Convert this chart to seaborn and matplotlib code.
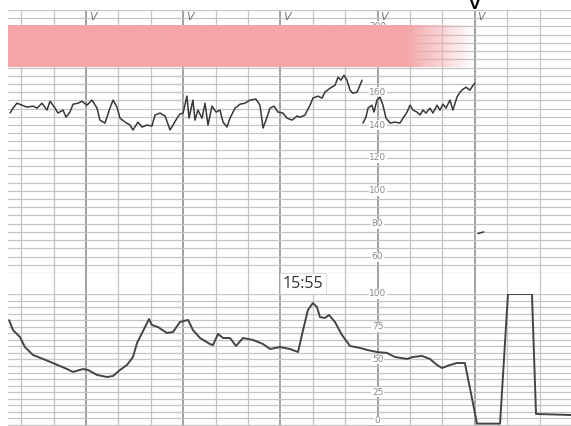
import numpy as np
import pandas as pd
import matplotlib
matplotlib.use("Agg")
import matplotlib.pyplot as plt
import matplotlib.transforms as mtransforms
import seaborn as sns

# CTG strip, time in seconds from strip start
# fetal heart rate (bpm), first part before the signal drop-out
fhr_sec_a = [13.1, 14.9, 17.4, 20.5, 23.6, 27.3, 29.8, 32.8, 35.9, 37.8, 40.9, 42.7, 45.8, 47.7,
             50.1, 52.0, 55.1, 57.5, 60.6, 63.7, 66.8, 68.6, 71.7, 74.8, 76.7, 79.1, 81.0, 84.1,
             87.2, 89.0, 92.1, 94.6, 97.7, 100.7, 102.6, 105.7, 108.8, 111.9, 113.7, 116.2, 118.0,
             119.9, 122.3, 123.6, 126.0, 127.3, 129.1, 131.6, 133.5, 135.3, 137.8, 140.3, 142.7,
             144.6, 147.0, 148.9, 152.0, 155.1, 158.1, 161.2, 164.9, 167.4, 169.3, 171.1, 173.6,
             176.1, 178.5, 181.6, 184.1, 187.2, 190.3, 192.1, 195.2, 196.4, 198.3, 200.1, 203.2,
             205.7, 207.5, 210.6, 213.7, 215.6, 217.4, 219.3, 221.1, 223.0, 224.8, 227.3, 229.1, 230.4]
fhr_bpm_a = [147.3, 150.3, 153.3, 152.1, 150.9, 151.5, 150.3, 153.3, 149.1, 154.5, 150.3, 147.3, 149.1, 144.8,
             147.9, 152.7, 153.3, 154.5, 152.1, 155.2, 150.3, 143.0, 141.2, 150.3, 155.2, 150.9, 144.2, 141.8,
             140.0, 137.0, 141.8, 138.8, 140.0, 139.4, 146.1, 147.3, 145.5, 137.0, 140.0, 144.2, 146.7,
             147.3, 157.6, 144.2, 155.2, 143.0, 149.1, 144.2, 153.3, 140.0, 151.5, 147.9, 149.1,
             141.8, 138.8, 144.2, 150.3, 152.7, 153.3, 155.2, 155.8, 152.1, 138.2, 143.0, 150.3,
             151.5, 147.9, 147.3, 144.2, 143.0, 145.5, 144.8, 146.1, 148.5, 152.1, 156.4, 157.6,
             156.4, 160.0, 162.4, 164.2, 169.1, 167.3, 170.3, 167.3, 161.2, 159.4, 160.0, 164.2, 167.3]
# second part after the drop-out
fhr_sec_b = [231.0, 232.8, 234.1, 236.5, 237.8, 239.6, 241.5, 243.3, 245.2, 247.7, 250.7, 253.8, 255.7,
             258.2, 260.0, 261.9, 264.3, 266.2, 268.0, 269.9, 272.3, 274.2, 276.7, 278.5, 280.4, 282.2,
             284.7, 286.5, 289.0, 290.9, 292.7, 294.6, 297.0, 298.9, 300.1]
fhr_bpm_b = [141.2, 144.8, 150.3, 152.1, 147.9, 155.2, 157.0, 152.1, 144.2, 141.2, 141.8, 141.2, 144.2,
             147.9, 152.1, 149.1, 147.9, 146.1, 149.1, 147.3, 150.3, 147.3, 152.1, 149.1, 152.7, 150.3,
             155.2, 149.1, 157.0, 160.0, 161.8, 163.0, 161.2, 164.2, 165.5]
# stray pen mark after the trace ends
stray_sec = [302.0, 305.5]
stray_bpm = [74.0, 75.0]

# uterine activity (toco units)
toco_sec = [12.5, 14.9, 19.3, 22.3, 27.3, 33.5, 39.6, 48.3, 52.0, 58.2, 61.2, 66.8, 73.0, 76.7, 81.0,
            85.3, 89.0, 91.5, 94.6, 97.7, 98.9, 100.7, 104.4, 110.0, 113.7, 118.0, 123.0, 126.0,
            130.4, 136.5, 138.4, 141.5, 144.6, 148.9, 152.6, 156.9, 163.1, 169.3, 173.6, 179.8,
            185.9, 190.9, 194.0, 197.0, 200.1, 202.6, 204.4, 207.5, 210.0, 213.7, 218.0, 223.0,
            229.1, 233.5, 239.6, 245.8, 250.7, 258.2, 261.9, 267.4, 272.3, 276.7, 279.8, 284.7,
            289.0, 293.9, 301.4, 315.6, 320.5, 335.3, 337.8, 359.4]
toco_val = [80.0, 72.5, 67.0, 59.5, 53.4, 50.4, 47.3, 42.7, 40.5, 42.7, 42.0, 38.2, 36.6, 37.4, 42.0,
            45.8, 51.9, 62.6, 70.2, 77.9, 80.9, 76.3, 74.8, 70.2, 71.0, 78.6, 80.2, 72.5,
            66.4, 61.8, 61.0, 69.5, 66.4, 66.4, 60.3, 66.4, 64.9, 61.8, 58.0, 59.5,
            58.0, 55.7, 72.5, 87.8, 93.1, 90.0, 82.4, 81.7, 84.0, 78.6, 68.7, 60.3,
            58.8, 57.3, 55.7, 55.0, 51.9, 50.4, 51.9, 52.7, 50.4, 45.8, 43.5, 45.8,
            47.3, 47.3, 1.0, 1.0, 100.0, 100.0, 8.4, 7.6]

fhr_scale = [60, 80, 100, 120, 140, 160, 180, 200]
toco_scale = [0, 25, 50, 75, 100]
event_sec = [60, 120, 180, 240, 300]
band_bpm = (175.2, 200.6)
time_label = "15:55"

x_lim = (11.85, 359.4)
grid_minor = "#c4c4c4"
grid_major = "#9a9a9a"
trace_col = "#383838"

sns.set_style("white")
plt.rcParams['font.family'] = ['DejaVu Sans']

fig = plt.figure(figsize=(5.71, 4.26), dpi=100)
W, H = 571, 426
ax_fhr = fig.add_axes([8 / W, (H - 273) / H, 1 - 8 / W, 263 / H])
ax_gap = fig.add_axes([8 / W, (H - 294) / H, 1 - 8 / W, 21 / H])
ax_toco = fig.add_axes([8 / W, 0, 1 - 8 / W, 132 / H])


def paper(ax, ylim, ystep):
    ax.set_xlim(*x_lim)
    ax.set_ylim(*ylim)
    ax.set_xticks(np.arange(60, 360, 60))
    ax.set_xticks(np.arange(20, 360, 20), minor=True)
    ax.grid(which='major', axis='x', color=grid_major, lw=1.3, zorder=0)
    ax.grid(which='minor', axis='x', color=grid_minor, lw=0.9, zorder=0)
    if ystep:
        ax.set_yticks(np.arange(np.ceil(ylim[0] / ystep) * ystep, ylim[1] + 0.1, ystep))
        ax.grid(which='major', axis='y', color=grid_minor, lw=0.9, zorder=0)
    else:
        ax.set_yticks([])
    ax.tick_params(which='both', length=0, labelbottom=False, labelleft=False)
    ax.set_xlabel("")
    ax.set_ylabel("")
    sns.despine(ax=ax, left=True, bottom=True, right=True, top=True)
    ax.set_facecolor("white")


paper(ax_fhr, (50, 210), 5)
paper(ax_gap, (0, 1), None)
paper(ax_toco, (-0.8, 100), 5)

# FHR trace
fhr = pd.concat([
    pd.DataFrame({"sec": fhr_sec_a, "bpm": fhr_bpm_a, "seg": "a"}),
    pd.DataFrame({"sec": fhr_sec_b, "bpm": fhr_bpm_b, "seg": "b"}),
    pd.DataFrame({"sec": stray_sec, "bpm": stray_bpm, "seg": "c"}),
])
sns.lineplot(data=fhr, x="sec", y="bpm", units="seg", estimator=None, sort=False,
             color=trace_col, lw=1.1, ax=ax_fhr, zorder=3)

# toco trace
toco = pd.DataFrame({"sec": toco_sec, "val": toco_val})
sns.lineplot(data=toco, x="sec", y="val", estimator=None, sort=False,
             color="#444444", lw=1.4, ax=ax_toco, zorder=3)

# scale numbers printed on the paper
for v in fhr_scale:
    ax_fhr.text(240, v, str(v), ha='center', va='center', fontsize=6.5, color="#8a8a8a",
                zorder=2, bbox=dict(boxstyle='square,pad=0.05', fc='white', ec='none'))
for v in toco_scale:
    ax_toco.text(240, v, str(v), ha='center', va='bottom' if v == 0 else 'center',
                 fontsize=6.5, color="#8a8a8a", zorder=2, clip_on=False,
                 bbox=dict(boxstyle='square,pad=0.05', fc='white', ec='none'))

# event marks along the top row
for s in event_sec:
    ax_fhr.text(s + 4, 206, "V", ha='center', va='center', fontsize=8, color="#777777",
                style='italic', zorder=2)
blend = mtransforms.blended_transform_factory(ax_fhr.transData, ax_fhr.transAxes)
ax_fhr.text(event_sec[-1], 1.004, "V", transform=blend, ha='center', va='baseline',
            fontsize=9, fontweight='bold', color="black", clip_on=False)

# pink cover band, fading out towards the end of the trace
cols = np.linspace(x_lim[0], 300, 300)
alpha = np.clip((300 - cols) / 42.0, 0, 1)
rgba = np.zeros((1, len(cols), 4))
rgba[..., 0] = 244 / 255
rgba[..., 1] = 166 / 255
rgba[..., 2] = 168 / 255
rgba[..., 3] = alpha
ax_fhr.imshow(rgba, extent=[x_lim[0], 300, band_bpm[0], band_bpm[1]], aspect='auto',
              interpolation='bilinear', zorder=4)
ax_fhr.set_xlim(*x_lim)
ax_fhr.set_ylim(50, 210)

# time stamp in the gap between the channels
blend_gap = mtransforms.blended_transform_factory(ax_gap.transData, ax_gap.transAxes)
ax_gap.text(181.5, 0.5, time_label, transform=blend_gap, ha='left', va='center',
            fontsize=11.5, color="#333333", family=['Open Sans', 'DejaVu Sans'], zorder=5,
            clip_on=False,
            bbox=dict(boxstyle='square,pad=0.18', fc='white', ec='#d8d8d8', lw=0.6))

fig.savefig("out.png", dpi=100)
